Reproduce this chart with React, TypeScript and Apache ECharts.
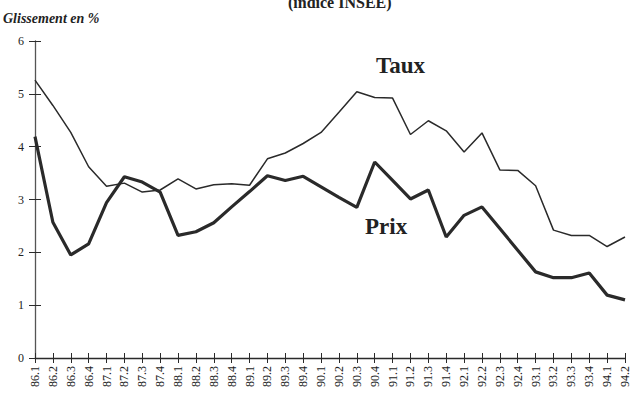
import React, { useEffect, useRef } from "react";
import * as echarts from "echarts";

const quarters: string[] = [
  "86.1", "86.2", "86.3", "86.4",
  "87.1", "87.2", "87.3", "87.4",
  "88.1", "88.2", "88.3", "88.4",
  "89.1", "89.2", "89.3", "89.4",
  "90.1", "90.2", "90.3", "90.4",
  "91.1", "91.2", "91.3", "91.4",
  "92.1", "92.2", "92.3", "92.4",
  "93.1", "93.2", "93.3", "93.4",
  "94.1", "94.2",
];

const taux: number[] = [
  5.26, 4.78, 4.27, 3.62, 3.25, 3.31, 3.14, 3.18, 3.39, 3.2, 3.28, 3.3,
  3.27, 3.77, 3.88, 4.06, 4.27, 4.65, 5.04, 4.93, 4.92, 4.23, 4.49, 4.3,
  3.9, 4.26, 3.56, 3.55, 3.26, 2.42, 2.32, 2.32, 2.11, 2.29,
];

const prix: number[] = [
  4.19, 2.57, 1.95, 2.16, 2.94, 3.43, 3.33, 3.14, 2.32, 2.39, 2.56, 2.86,
  3.15, 3.45, 3.36, 3.44, 3.24, 3.04, 2.85, 3.71, 3.36, 3.01, 3.18, 2.29,
  2.7, 2.86, 2.45, 2.04, 1.63, 1.52, 1.52, 1.61, 1.19, 1.1,
];

const yTicks = { min: 0, max: 6, interval: 1 };

const SERIF = "'Liberation Serif', 'DejaVu Serif', serif";
const INK = "#2a2a2a";

export default function App() {
  const ref = useRef<HTMLDivElement>(null);

  useEffect(() => {
    if (!ref.current) return;
    const chart = echarts.init(ref.current, undefined, { renderer: "svg" });
    const grid = { left: 35, right: 5, top: 41, bottom: 50, containLabel: false };
    chart.setOption({
      animation: false,
      backgroundColor: "#ffffff",
      grid,
      xAxis: [
        {
          type: "category",
          data: quarters,
          boundaryGap: false,
          position: "bottom",
          axisLine: { show: true, lineStyle: { color: INK, width: 1.3 } },
          axisTick: { show: true, interval: 0, length: 5, lineStyle: { color: INK, width: 1 } },
          axisLabel: {
            interval: 0,
            rotate: 90,
            margin: 8,
            fontSize: 12,
            fontFamily: SERIF,
            color: "#222",
          },
          splitLine: { show: false },
        },
        {
          type: "category",
          data: quarters,
          boundaryGap: false,
          position: "bottom",
          offset: 0,
          axisLine: { show: false },
          axisTick: { show: true, inside: true, interval: 0, length: 5, lineStyle: { color: INK, width: 1 } },
          axisLabel: { show: false },
          splitLine: { show: false },
        },
      ],
      yAxis: [
        {
          type: "value",
          min: yTicks.min,
          max: yTicks.max,
          interval: yTicks.interval,
          position: "left",
          axisLine: { show: true, lineStyle: { color: "#555", width: 1.3 } },
          axisTick: { show: true, length: 6, lineStyle: { color: INK, width: 1 } },
          axisLabel: { margin: 11, fontSize: 12, fontFamily: SERIF, color: "#222" },
          splitLine: { show: false },
        },
        {
          type: "value",
          min: yTicks.min,
          max: yTicks.max,
          interval: yTicks.interval,
          position: "left",
          offset: 0,
          axisLine: { show: false },
          axisTick: { show: true, inside: true, length: 6, lineStyle: { color: INK, width: 1 } },
          axisLabel: { show: false },
          splitLine: { show: false },
        },
      ],
      series: [
        {
          name: "Taux",
          type: "line",
          data: taux,
          xAxisIndex: 0,
          yAxisIndex: 0,
          symbol: "none",
          lineStyle: { color: INK, width: 1.5 },
        },
        {
          name: "Prix",
          type: "line",
          data: prix,
          xAxisIndex: 0,
          yAxisIndex: 0,
          symbol: "none",
          lineStyle: { color: INK, width: 3.2 },
        },
      ],
      graphic: [
        {
          type: "text",
          left: 3,
          top: 11,
          style: {
            text: "Glissement en %",
            font: `italic bold 14px ${SERIF}`,
            fill: "#222",
          },
        },
        {
          type: "text",
          x: 288,
          y: 10,
          style: {
            text: "(indice INSEE)",
            font: `bold 16px ${SERIF}`,
            fill: "#222",
            verticalAlign: "bottom",
          },
        },
        {
          type: "text",
          x: 376,
          y: 65,
          style: {
            text: "Taux",
            font: `bold 23px ${SERIF}`,
            fill: "#222",
            verticalAlign: "middle",
          },
        },
        {
          type: "text",
          x: 365,
          y: 226,
          style: {
            text: "Prix",
            font: `bold 23px ${SERIF}`,
            fill: "#222",
            verticalAlign: "middle",
          },
        },
      ],
    });
    return () => chart.dispose();
  }, []);

  return (
    <div
      ref={ref}
      style={{ position: "fixed", left: 0, top: 0, width: 631, height: 408 }}
    />
  );
}
